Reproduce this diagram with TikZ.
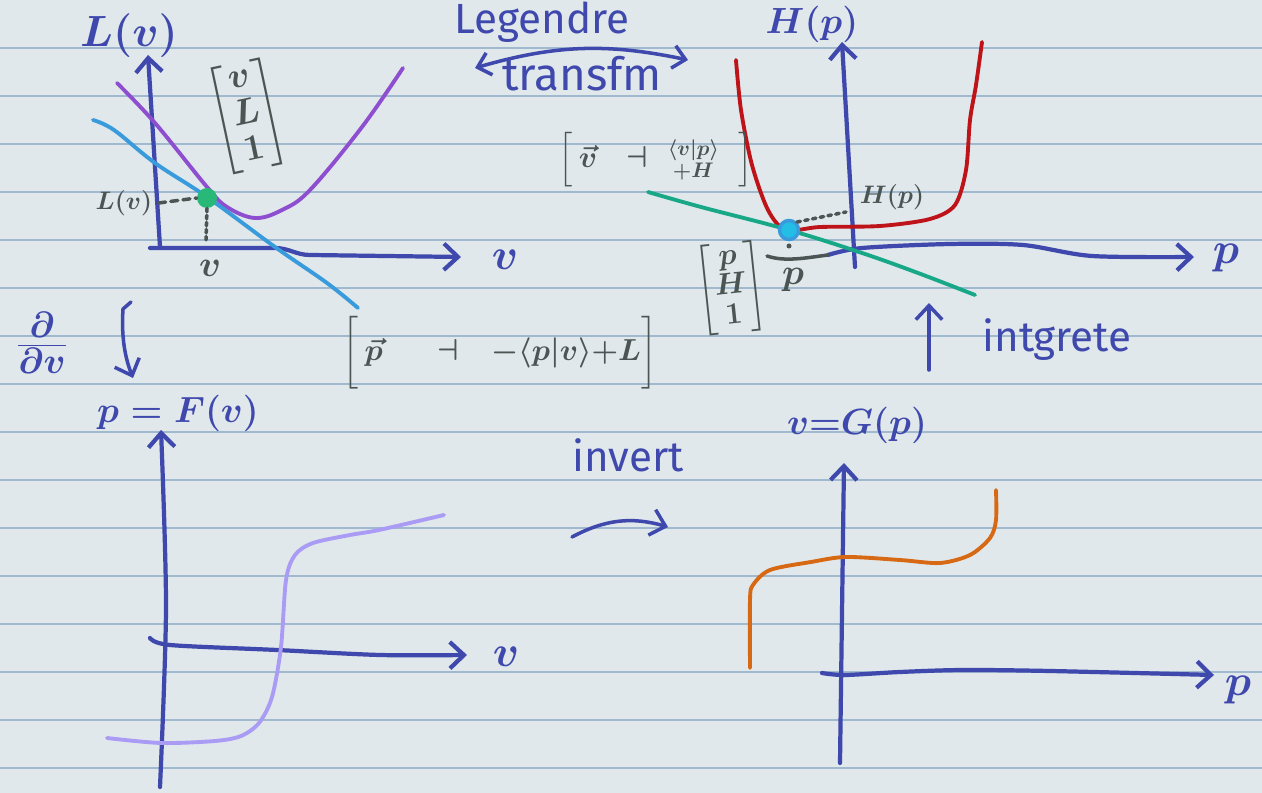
\documentclass[tikz,border=0pt]{standalone}
\usepackage{amsmath}
\usepackage{fontspec}
\setmainfont{Fira Sans}
\usepackage{tikz}
\usetikzlibrary{arrows.meta, calc}
\definecolor{Paper}{RGB}{224,232,235}
\definecolor{RuleBlue}{RGB}{160,185,206}
\definecolor{InkBlue}{RGB}{63,72,172}
\definecolor{InkGray}{RGB}{75,85,83}
\definecolor{LagPurple}{RGB}{142,78,208}
\definecolor{TanBlue}{RGB}{58,155,220}
\definecolor{DotGreen}{RGB}{40,185,120}
\definecolor{HamRed}{RGB}{190,20,25}
\definecolor{TanTeal}{RGB}{25,168,135}
\definecolor{DotCyan}{RGB}{35,190,230}
\definecolor{FLavender}{RGB}{170,155,245}
\definecolor{GOrange}{RGB}{215,105,20}

\begin{document}
\begin{tikzpicture}[x=0.02cm, y=-0.02cm,
    rule/.style={draw=RuleBlue, line width=1.1pt},
    axis/.style={draw=InkBlue, line width=2.4pt, line cap=round, line join=round},
    curve/.style={line width=2.2pt, line cap=round, line join=round},
    tip/.style={-{Straight Barb[length=8pt, width=15pt]}},
    pencil/.style={draw=InkGray, line width=2pt, line cap=round},
    ink/.style={text=InkBlue, inner sep=0pt},
    head/.style={ink, font=\fontsize{23}{26}\selectfont\boldmath},
    big/.style={ink, font=\fontsize{46}{50}\selectfont\boldmath},
    word/.style={ink, font=\fontsize{24}{28}\selectfont},
    note/.style={text=InkGray, inner sep=0pt, font=\fontsize{14}{16}\selectfont\boldmath},
    brk/.style={text=InkGray, inner sep=0pt, font=\fontsize{17}{19}\selectfont\boldmath},
    spot/.style={circle, inner sep=0pt, minimum size=0.4cm}
  ]
  % paper
  \fill[Paper] (0,0) rectangle (1262,793);
  \useasboundingbox (0,0) rectangle (1262,793);
  \foreach \k in {1,...,16} {
    \draw[rule] (0,48*\k) -- (1262,48*\k);
  }

  % L(v) graph
  \coordinate (la0) at (160,247);
  \coordinate (la1) at (148,55);
  \coordinate (lb0) at (150,248);
  \coordinate (lb1) at (461,257);
  \draw[axis, tip] (la0) -- (la1);
  \draw[axis, tip] (lb0) -- (275,248) to[out=0, in=180] (310,255) -- (lb1);
  \node[head] (Ltitle) at (129,36) {$L(v)$};
  \node[big] (vend1) at (505,260) {$v$};
  \draw[curve, LagPurple] plot[smooth, tension=0.6] coordinates
    {(117,83) (155,123) (207,187) (227,207) (255,218) (282,210) (310,190) (362,127) (403,68)};
  \draw[curve, TanBlue] plot[smooth, tension=0.6] coordinates
    {(93,120) (114,130) (155,163) (207,197) (275,247) (327,283) (358,308)};
  \node[spot, fill=DotGreen] (lspot) at (207,198) {};
  \node[note] (Lval) at (124,203) {$L(v)$};
  \node[note, font=\fontsize{20}{22}\selectfont\boldmath] (vval) at (210,268) {$v$};
  \draw[pencil, dashed, dash pattern=on 4pt off 3pt] (Lval.east) ++(6,0) -- (lspot.west);
  \draw[pencil, dotted] (lspot.south) -- (206,240);
  \node[brk, font=\fontsize{20}{21}\selectfont\boldmath, rotate=12] (vL1) at (247,116)
    {$\begin{bmatrix} v\\ L\\ 1\end{bmatrix}$};

  % Legendre
  \node[word] (leg) at (542,22) {Legendre};
  \node[word, font=\fontsize{26}{28}\selectfont] (trf) at (582,74) {transfm};
  \coordinate (tl0) at (475,68);
  \coordinate (tl1) at (688,60);
  \draw[axis, line width=2pt, {Straight Barb[length=7pt, width=13pt]}-{Straight Barb[length=7pt, width=13pt]}]
    (tl0) to[bend left=14] (tl1);

  % H(p) graph
  \coordinate (ha0) at (855,267);
  \coordinate (ha1) at (842,42);
  \coordinate (hb0) at (828,255);
  \coordinate (hb1) at (1194,257);
  \draw[axis, tip] (ha0) -- (ha1);
  \draw[axis, tip] plot[smooth, tension=0.5] coordinates
    {(hb0) (862,248) (950,244) (1023,245) (1092,256) (hb1)};
  \node[head, font=\fontsize{20}{24}\selectfont\boldmath] (Htitle) at (812,24) {$H(p)$};
  \node[big] (pend1) at (1226,258) {$p$};
  \draw[curve, HamRed] plot[smooth, tension=0.5] coordinates
    {(736,60) (741,110) (752,165) (768,210) (786,230) (820,227) (880,226) (930,219) (955,205) (966,170) (970,120) (976,85) (982,42)};
  \draw[curve, TanTeal] plot[smooth, tension=0.6] coordinates
    {(648,192) (701,207) (789,230) (862,253) (918,273) (975,295)};
  \node[spot, fill=DotCyan, draw=TanBlue, line width=2pt, minimum size=0.38cm] (hspot) at (789,230) {};
  \node[note] (Hval) at (892,197) {$H(p)$};
  \coordinate (hdash) at (846,212);
  \draw[pencil, dash pattern=on 2pt off 2.5pt] (hspot.north east) -- (hdash);
  \fill[InkGray] (789,246) circle (2.5);
  \draw[pencil] (767,256) .. controls (785,262) and (805,258) .. (hb0);
  \node[note, font=\fontsize{20}{22}\selectfont\boldmath] (pval) at (793,280) {$p$};
  \node[brk, font=\fontsize{16}{17}\selectfont\boldmath, rotate=6] (pH1) at (731,288)
    {$\begin{bmatrix} p\\ H\\ 1\end{bmatrix}$};
  \node[brk] (vbra) at (656,160)
    {$\Bigl[\,\vec v\hspace{0.4cm}\dashv\hspace{0.2cm}\substack{\langle v|p\rangle\\ +H}\hspace{0.4cm}\Bigr]$};
  \node[brk] (pbra) at (500,353)
    {$\biggl[\,\vec p\hspace{0.9cm}\dashv\hspace{0.45cm}{-}\langle p|v\rangle{+}L\biggr]$};

  % derivative
  \node[ink, font=\fontsize{28}{30}\selectfont\boldmath] (ddv) at (42,343) {$\frac{\partial}{\partial v}$};
  \coordinate (da0) at (131,302);
  \coordinate (da1) at (133,378);
  \draw[axis, line width=2pt, tip] (da0) -- (123,309) .. controls (121,340) and (126,360) .. (da1);

  % integrate
  \coordinate (ia0) at (929,370);
  \coordinate (ia1) at (929,303);
  \draw[axis, line width=2pt, tip] (ia0) -- (ia1);
  \node[word] (intg) at (1057,340) {intgrete};

  % F(v) graph
  \coordinate (fa0) at (160,787);
  \coordinate (fa1) at (161,430);
  \coordinate (fb0) at (150,638);
  \coordinate (fb1) at (467,655);
  \draw[axis, tip] plot[smooth] coordinates {(fa0) (166,607) (fa1)};
  \draw[axis, tip] plot[smooth] coordinates {(fb0) (170,645) (277,650) (380,655) (fb1)};
  \node[head, font=\fontsize{21}{24}\selectfont\boldmath] (Ftitle) at (178,413) {$p=F(v)$};
  \node[big] (vend2) at (506,657) {$v$};
  \draw[curve, FLavender] plot[smooth, tension=0.5] coordinates
    {(107,738) (161,743) (215,741) (241,736) (259,723) (272,697) (281,647) (286,580) (295,555) (313,543) (350,535) (379,530) (444,515)};

  % invert
  \node[word] (inv) at (628,455) {invert};
  \coordinate (iv0) at (572,537);
  \coordinate (iv1) at (668,527);
  \draw[axis, line width=2pt, tip] (iv0) to[bend left=22] (iv1);

  % G(p) graph
  \coordinate (ga0) at (840,763);
  \coordinate (ga1) at (844,463);
  \coordinate (gb0) at (822,673);
  \coordinate (gb1) at (1214,675);
  \draw[axis, tip] (ga0) -- (ga1);
  \draw[axis, tip] plot[smooth, tension=0.5] coordinates
    {(gb0) (845,675) (900,672) (963,670) (1050,671) (gb1)};
  \node[head, font=\fontsize{20}{24}\selectfont\boldmath] (Gtitle) at (857,425) {$v{=}G(p)$};
  \node[big] (pend2) at (1238,690) {$p$};
  \draw[curve, GOrange] plot[smooth, tension=0.5] coordinates
    {(750,668) (750,600) (753,585) (770,570) (811,562) (846,557) (900,560) (940,563) (970,555) (990,538) (996,520) (996,490)};
\end{tikzpicture}
\end{document}
